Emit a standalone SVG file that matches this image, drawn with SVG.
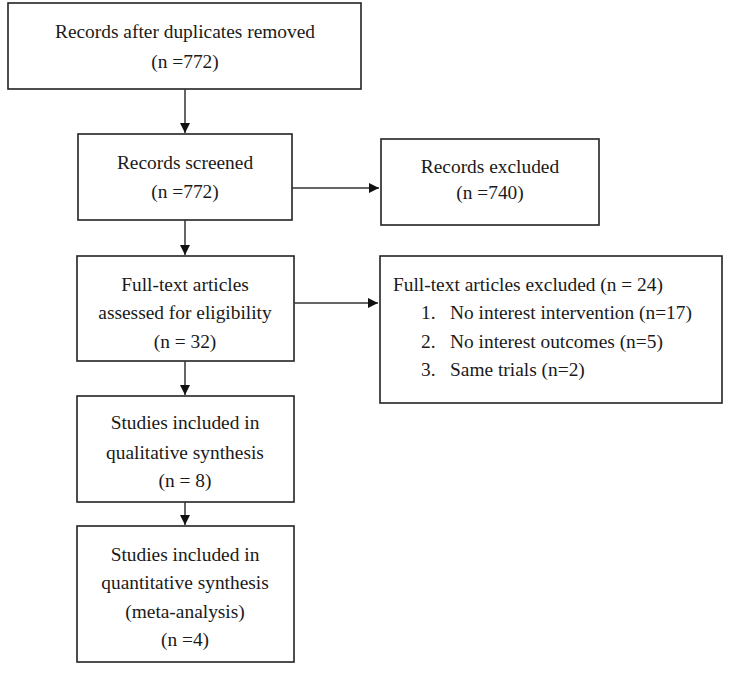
<svg xmlns="http://www.w3.org/2000/svg" width="732" height="673" viewBox="0 0 732 673">
<defs>
<marker id="ah" viewBox="0 0 10 10" refX="10" refY="5" markerWidth="10" markerHeight="10" markerUnits="userSpaceOnUse" orient="auto">
<path d="M0,0 L10,5 L0,10 Z" fill="#111"/>
</marker>
<style>
.box{fill:#fff;stroke:#222;stroke-width:1.6}
.t{font-family:"Liberation Serif","Times New Roman",serif;font-size:19.4px;fill:#1a1a1a}
.c{text-anchor:middle}
.ln{stroke:#333;stroke-width:1.5;fill:none;marker-end:url(#ah)}
</style>
</defs>
<rect width="732" height="673" fill="#fff"/>
<g id="n1">
<rect class="box" x="8" y="3" width="353" height="86"/>
<text class="t c" x="185" y="38">Records after duplicates removed</text>
<text class="t c" x="185" y="68">(n =772)</text>
</g>
<g id="n2">
<rect class="box" x="78" y="134" width="214" height="86"/>
<text class="t c" x="185" y="169">Records screened</text>
<text class="t c" x="185" y="198">(n =772)</text>
</g>
<g id="n3">
<rect class="box" x="381" y="139" width="218" height="86"/>
<text class="t c" x="490" y="173">Records excluded</text>
<text class="t c" x="490" y="199">(n =740)</text>
</g>
<g id="n4">
<rect class="box" x="77" y="256" width="217" height="105"/>
<text class="t c" x="185" y="291">Full-text articles</text>
<text class="t c" x="185" y="319">assessed for eligibility</text>
<text class="t c" x="185" y="348">(n = 32)</text>
</g>
<g id="n5">
<rect class="box" x="380" y="256" width="342" height="147"/>
<text class="t" x="393" y="291">Full-text articles excluded (n = 24)</text>
<text class="t" x="421" y="319">1.</text>
<text class="t" x="450" y="319">No interest intervention (n=17)</text>
<text class="t" x="421" y="348">2.</text>
<text class="t" x="450" y="348">No interest outcomes (n=5)</text>
<text class="t" x="421" y="376">3.</text>
<text class="t" x="450" y="376">Same trials (n=2)</text>
</g>
<g id="n6">
<rect class="box" x="77" y="396" width="217" height="106"/>
<text class="t c" x="185" y="429">Studies included in</text>
<text class="t c" x="185" y="459">qualitative synthesis</text>
<text class="t c" x="185" y="487">(n = 8)</text>
</g>
<g id="n7">
<rect class="box" x="77" y="526" width="217" height="136"/>
<text class="t c" x="185" y="561">Studies included in</text>
<text class="t c" x="185" y="589">quantitative synthesis</text>
<text class="t c" x="185" y="618">(meta-analysis)</text>
<text class="t c" x="185" y="646">(n =4)</text>
</g>
<g id="connectors">
<line class="ln" x1="185" y1="89" x2="185" y2="133"/>
<line class="ln" x1="292" y1="188" x2="379" y2="188"/>
<line class="ln" x1="185" y1="220" x2="185" y2="255"/>
<line class="ln" x1="294" y1="303" x2="378" y2="303"/>
<line class="ln" x1="185" y1="361" x2="185" y2="395"/>
<line class="ln" x1="185" y1="502" x2="185" y2="525"/>
</g>
</svg>
